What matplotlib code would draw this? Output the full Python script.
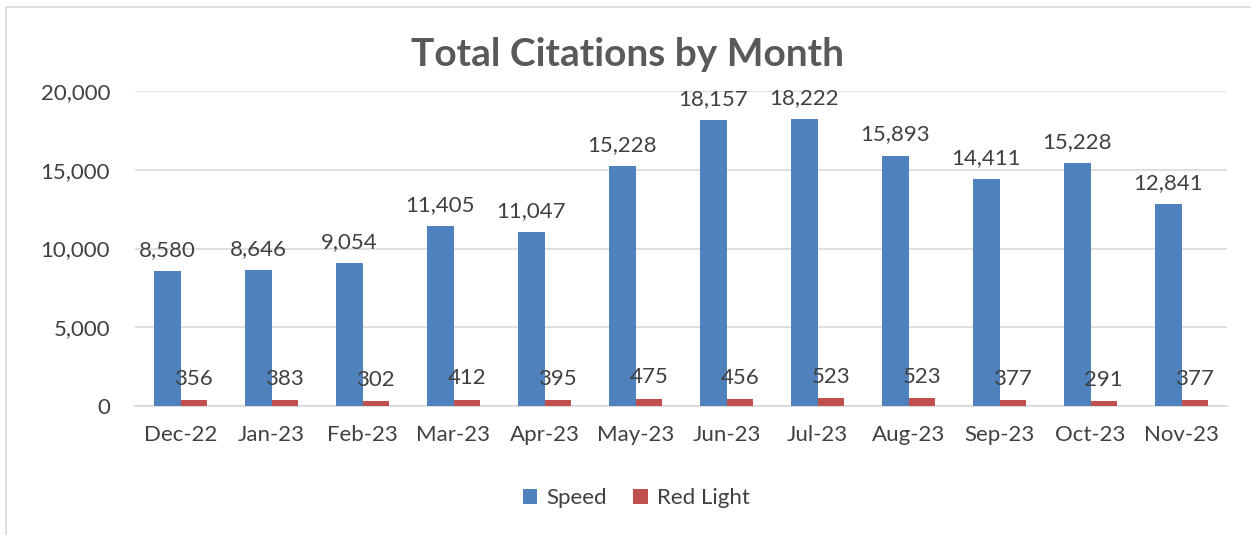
import matplotlib.pyplot as plt
import numpy as np
from matplotlib.patches import Rectangle

months = ["Dec-22", "Jan-23", "Feb-23", "Mar-23", "Apr-23", "May-23",
          "Jun-23", "Jul-23", "Aug-23", "Sep-23", "Oct-23", "Nov-23"]
speed = [8580, 8646, 9054, 11405, 11047, 15228, 18157, 18222, 15893, 14411, 15430, 12841]
speed_labels = ["8,580", "8,646", "9,054", "11,405", "11,047", "15,228",
                "18,157", "18,222", "15,893", "14,411", "15,228", "12,841"]
red_light = [356, 383, 302, 412, 395, 475, 456, 523, 523, 377, 291, 377]
red_labels = ["356", "383", "302", "412", "395", "475", "456", "523", "523", "377", "291", "377"]

plt.rcParams["font.family"] = ["Lato", "DejaVu Sans"]
txt = "#404040"

fig = plt.figure(figsize=(12.51, 5.35), dpi=100)
ax = fig.add_axes([135 / 1251, 1 - 406 / 535, 1092 / 1251, 315 / 535])

# chart frame (right/bottom edges fall outside the image)
fig.patches.append(Rectangle((6 / 1251, -0.1), 1.2, 1 - 7 / 535 + 0.1,
                             transform=fig.transFigure, fill=False,
                             edgecolor="#d9d9d9", linewidth=1.2))

x = np.arange(len(months))
w = 0.29
b1 = ax.bar(x - w / 2, speed, w, color="#4f81bd", label="Speed", zorder=3)
b2 = ax.bar(x + w / 2, red_light, w, color="#c0504d", label="Red Light", zorder=3)

for rect, lab in zip(b1, speed_labels):
    ax.annotate(lab, (rect.get_x() + rect.get_width() / 2, rect.get_height()),
                xytext=(0, 8), textcoords="offset points", ha="center", va="bottom",
                fontsize=16, color=txt)
for rect, lab in zip(b2, red_labels):
    ax.annotate(lab, (rect.get_x() + rect.get_width() / 2, rect.get_height()),
                xytext=(0, 8), textcoords="offset points", ha="center", va="bottom",
                fontsize=16, color=txt)

ax.set_xlim(-0.5, len(months) - 0.5)
ax.set_ylim(0, 20000)
ax.set_yticks(range(0, 20001, 5000))
ax.yaxis.set_major_formatter(plt.FuncFormatter(lambda v, p: f"{int(v):,}"))
ax.set_xticks(x)
ax.set_xticklabels(months)
ax.tick_params(axis="both", length=0, labelsize=16, labelcolor=txt)
ax.tick_params(axis="y", pad=18)
ax.tick_params(axis="x", pad=14)
ax.grid(axis="y", color="#d9d9d9", linewidth=1.2, zorder=0)
for s in ["top", "right", "left"]:
    ax.spines[s].set_visible(False)
ax.spines["bottom"].set_color("#d9d9d9")
ax.spines["bottom"].set_linewidth(1.2)

fig.text(628 / 1251, 1 - 55 / 535, "Total Citations by Month",
         ha="center", va="center", fontsize=28, fontweight="bold", color="#595959")

fig.legend(loc="center", bbox_to_anchor=(636 / 1251, 1 - 498 / 535), ncol=2,
           frameon=False, fontsize=16, handlelength=0.65, handleheight=0.65,
           columnspacing=1.2, handletextpad=0.4, labelcolor=txt)

fig.savefig("out.png", dpi=100, facecolor="white")
